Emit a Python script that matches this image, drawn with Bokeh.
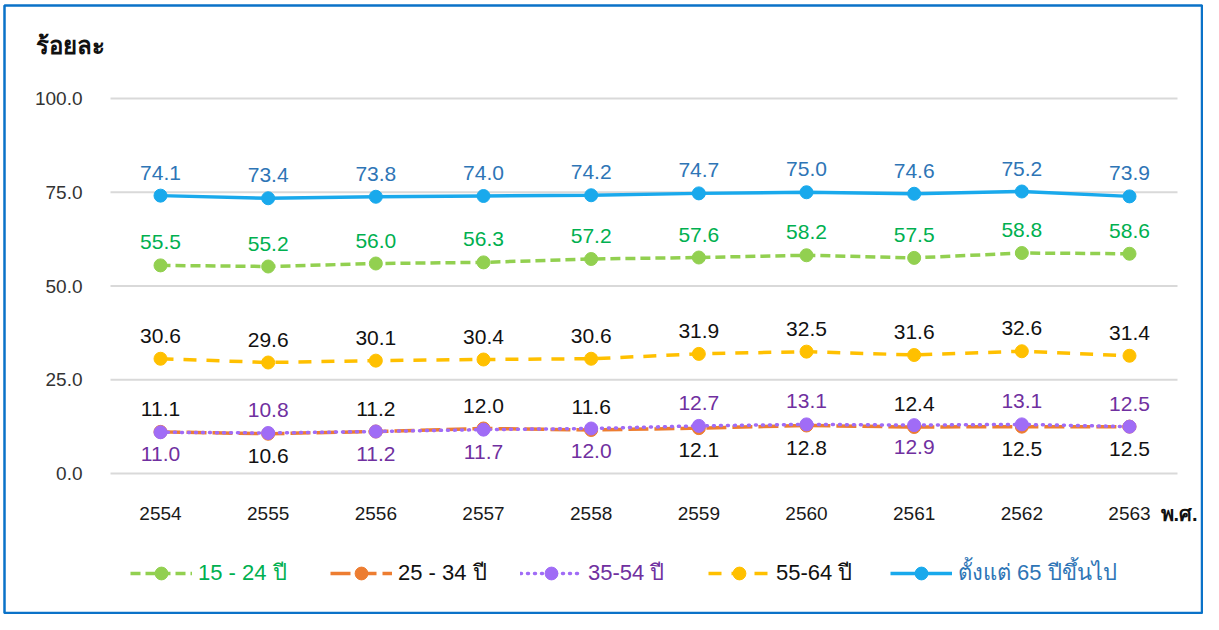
from bokeh.plotting import figure
from bokeh.models import (Range1d, ColumnDataSource, Legend, LegendItem, Label,
                          BoxAnnotation)
from bokeh.core.properties import value
from bokeh.embed import file_html
from bokeh.resources import INLINE

# ---------------- data ----------------
years = [2554, 2555, 2556, 2557, 2558, 2559, 2560, 2561, 2562, 2563]
age_15_24 = [55.5, 55.2, 56.0, 56.3, 57.2, 57.6, 58.2, 57.5, 58.8, 58.6]
age_25_34 = [11.1, 10.6, 11.2, 12.0, 11.6, 12.1, 12.8, 12.4, 12.5, 12.5]
age_35_54 = [11.0, 10.8, 11.2, 11.7, 12.0, 12.7, 13.1, 12.9, 13.1, 12.5]
age_55_64 = [30.6, 29.6, 30.1, 30.4, 30.6, 31.9, 32.5, 31.6, 32.6, 31.4]
age_65_up = [74.1, 73.4, 73.8, 74.0, 74.2, 74.7, 75.0, 74.6, 75.2, 73.9]
series_names = ["15 - 24 ปี", "25 - 34 ปี", "35-54 ปี", "55-64 ปี", "ตั้งแต่ 65 ปีขึ้นไป"]
y_ticks = [0, 25, 50, 75, 100]
y_title = "ร้อยละ"
x_title = "พ.ศ."

# label placement styles (a = above, b = below)
pos_25_34 = ["a", "b", "a", "a", "a", "b", "b", "a", "b", "b"]
pos_35_54 = ["b", "a", "b", "b", "b", "a", "a", "b", "a", "a"]

# ---------------- layout (pixels) ----------------
FONT = "'Liberation Sans', 'Noto Sans', sans-serif"
W, H = 1203, 614
X_FIRST, X_LAST = 160, 1129        # canvas x of first / last category
Y_ZERO, Y_HUNDRED = 473, 98        # canvas y of 0 and 100
GRID_L, GRID_R = 110, 1177

ppx = (X_LAST - X_FIRST) / (years[-1] - years[0])
ppy = (Y_ZERO - Y_HUNDRED) / 100.0
x0 = years[0] - X_FIRST / ppx
x1 = x0 + W / ppx
y0 = -(H - Y_ZERO) / ppy
y1 = Y_ZERO / ppy

p = figure(width=W, height=H, output_backend="svg", toolbar_location=None,
           x_range=Range1d(x0, x1), y_range=Range1d(y0, y1),
           x_axis_type=None, y_axis_type=None,
           min_border=0, min_border_left=0, min_border_right=0,
           min_border_top=0, min_border_bottom=0)
p.grid.visible = False
p.background_fill_color = "white"
p.border_fill_color = "white"
p.outline_line_color = None

# horizontal gridlines at the y ticks
gl, gr = x0 + GRID_L / ppx, x0 + GRID_R / ppx
p.segment(x0=[gl] * len(y_ticks), x1=[gr] * len(y_ticks), y0=y_ticks, y1=y_ticks,
          line_color="#D9D9D9", line_width=2)

# y tick labels
p.text(x=[x0] * len(y_ticks), y=y_ticks, text=["%.1f" % t for t in y_ticks],
       x_offset=82, text_align="right", text_baseline="middle",
       text_color="#333333", text_font=value(FONT), text_font_size="19px")
# x tick labels
p.text(x=years, y=[0] * len(years), text=[str(y) for y in years],
       y_offset=40, text_align="center", text_baseline="middle",
       text_color="#1a1a1a", text_font=value(FONT), text_font_size="19px")

def add_series(vals, color, dash, width):
    r_line = p.line(years, vals, line_color=color, line_width=width, line_dash=dash)
    r_pt = p.scatter(years, vals, size=13, fill_color=color, line_color=color, marker="circle")
    return [r_line, r_pt]

r55 = add_series(age_55_64, "#FFC000", "13 10", 3.5)
r15 = add_series(age_15_24, "#92D050", "10 5", 3.5)
r65 = add_series(age_65_up, "#19A9EC", "solid", 3.5)
r25 = add_series(age_25_34, "#ED7D31", "20 6", 3.5)
l35 = p.line(years, age_35_54, line_color="#A06CF6", line_width=3.5, line_dash="1 6",
             line_cap="round")
s35 = p.scatter(years, age_35_54, size=13, fill_color="#A06CF6", line_color="#A06CF6")
r35 = [l35, s35]

OFF = 23
def add_labels(vals, color, positions=None):
    if positions is None:
        positions = ["a"] * len(vals)
    offs = [-OFF if q == "a" else OFF - 1 for q in positions]
    src = ColumnDataSource(dict(x=years, y=vals, t=["%.1f" % v for v in vals], off=offs))
    p.text(x="x", y="y", text="t", source=src, y_offset="off",
           text_align="center", text_baseline="middle", text_color=color,
           text_font=value(FONT), text_font_size="21px")

add_labels(age_65_up, "#2E75B6")
add_labels(age_15_24, "#00B050")
add_labels(age_55_64, "#111111")
add_labels(age_25_34, "#111111", pos_25_34)
add_labels(age_35_54, "#7030A0", pos_35_54)

# legends (one per series so each label can keep its own colour)
GH = 32
leg_specs = [
    (r15, series_names[0], "#00B050", 130),
    (r25, series_names[1], "#111111", 330),
    (r35, series_names[2], "#7030A0", 520),
    (r55, series_names[3], "#111111", 708),
    (r65, series_names[4], "#2E75B6", 890),
]
for rs, name, col, lx in leg_specs:
    leg = Legend(items=[LegendItem(label=name, renderers=rs)],
                 location=(lx, H - 574 - GH // 2), orientation="horizontal",
                 background_fill_alpha=0, border_line_color=None,
                 padding=0, margin=0, spacing=0,
                 glyph_width=62, glyph_height=GH, label_height=GH,
                 label_standoff=6, label_text_font=FONT,
                 label_text_font_size="22px", label_text_color=col,
                 label_text_baseline="middle")
    p.add_layout(leg, "center")

p.add_layout(Label(x=35, y=H - 45, x_units="screen", y_units="screen", text=y_title,
                   text_font=FONT, text_font_size="24px", text_font_style="bold",
                   text_color="#111111", text_baseline="middle"))
p.add_layout(Label(x=1160, y=H - 513, x_units="screen", y_units="screen", text=x_title,
                   text_font=FONT, text_font_size="20px", text_font_style="bold",
                   text_color="#111111", text_baseline="middle"))

# blue frame round the whole chart
p.add_layout(BoxAnnotation(left=4, right=W - 1.5, bottom=1.5, top=H - 5,
                           left_units="screen", right_units="screen",
                           top_units="screen", bottom_units="screen",
                           fill_alpha=0, line_color="#0A72C8", line_alpha=1.0,
                           line_width=2.5))

open("out.html", "w").write(file_html(p, INLINE))
